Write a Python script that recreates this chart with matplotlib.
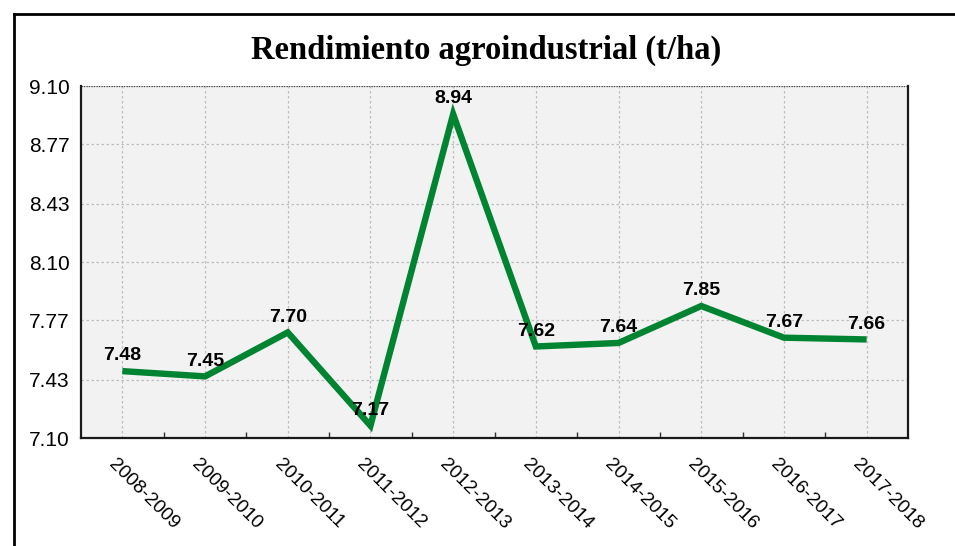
import matplotlib.pyplot as plt
import matplotlib.transforms as mtransforms
from matplotlib.lines import Line2D
import numpy as np

seasons = ['2008-2009', '2009-2010', '2010-2011', '2011-2012', '2012-2013',
           '2013-2014', '2014-2015', '2015-2016', '2016-2017', '2017-2018']
rendimiento = [7.48, 7.45, 7.70, 7.17, 8.94, 7.62, 7.64, 7.85, 7.67, 7.66]
y_ticks = [7.10, 7.43, 7.77, 8.10, 8.43, 8.77, 9.10]

fig = plt.figure(figsize=(9.55, 5.46), dpi=100)
ax = fig.add_axes([81 / 955, 1 - 438 / 546, 827 / 955, 352 / 546])
ax.set_facecolor('#f2f2f2')

x = np.arange(len(seasons))
ax.plot(x, rendimiento, color='#008431', lw=4.6, solid_joinstyle='miter',
        solid_capstyle='butt', zorder=3)
for xi, v in zip(x, rendimiento):
    ax.annotate(f'{v:.2f}', (xi, v), xytext=(0, 11), textcoords='offset points',
                ha='center', va='center', fontsize=14, fontweight='bold',
                family='Liberation Sans', zorder=4)

ax.set_xlim(-0.5, len(seasons) - 0.5)
ax.set_ylim(7.10, 9.10)
ax.set_yticks(y_ticks)
ax.set_yticklabels([f'{t:.2f}' for t in y_ticks], family='Liberation Sans', fontsize=15)
ax.tick_params(axis='y', length=0, pad=8)

ax.set_xticks(x)
ax.set_xticklabels(seasons, rotation=-45, ha='left', rotation_mode='anchor',
                   family='Liberation Sans', fontsize=13.8)
ax.tick_params(axis='x', which='major', length=0, pad=13)
shift = mtransforms.ScaledTranslation(-5 / 100, 0, fig.dpi_scale_trans)
for lab in ax.get_xticklabels():
    lab.set_transform(lab.get_transform() + shift)
ax.set_xticks(np.arange(0.5, len(seasons) - 1, 1), minor=True)
ax.tick_params(axis='x', which='minor', direction='in', length=4, width=1, color='#333333')

ax.grid(True, color='#bdbdbd', linestyle=(0, (2, 2)), lw=0.9, zorder=0)
ax.set_axisbelow(True)
ax.spines['top'].set_visible(False)
for s in ['left', 'bottom', 'right']:
    ax.spines[s].set_linewidth(1.6)
    ax.spines[s].set_color('#1a1a1a')
# dotted top edge
ax.axhline(9.10, color='#444444', linestyle=(0, (1, 1)), lw=0.9, zorder=1)

fig.text(486 / 955, 1 - 50 / 546, 'Rendimiento agroindustrial (t/ha)', ha='center', va='center',
         fontsize=23.5, fontweight='bold', family='Liberation Serif')

# outer frame
fig.add_artist(Line2D([14 / 955, 1], [1 - 14 / 546, 1 - 14 / 546], color='black', lw=2,
                      transform=fig.transFigure))
fig.add_artist(Line2D([14 / 955, 14 / 955], [0, 1 - 14 / 546], color='black', lw=2,
                      transform=fig.transFigure))

fig.savefig('out.png', dpi=100)
